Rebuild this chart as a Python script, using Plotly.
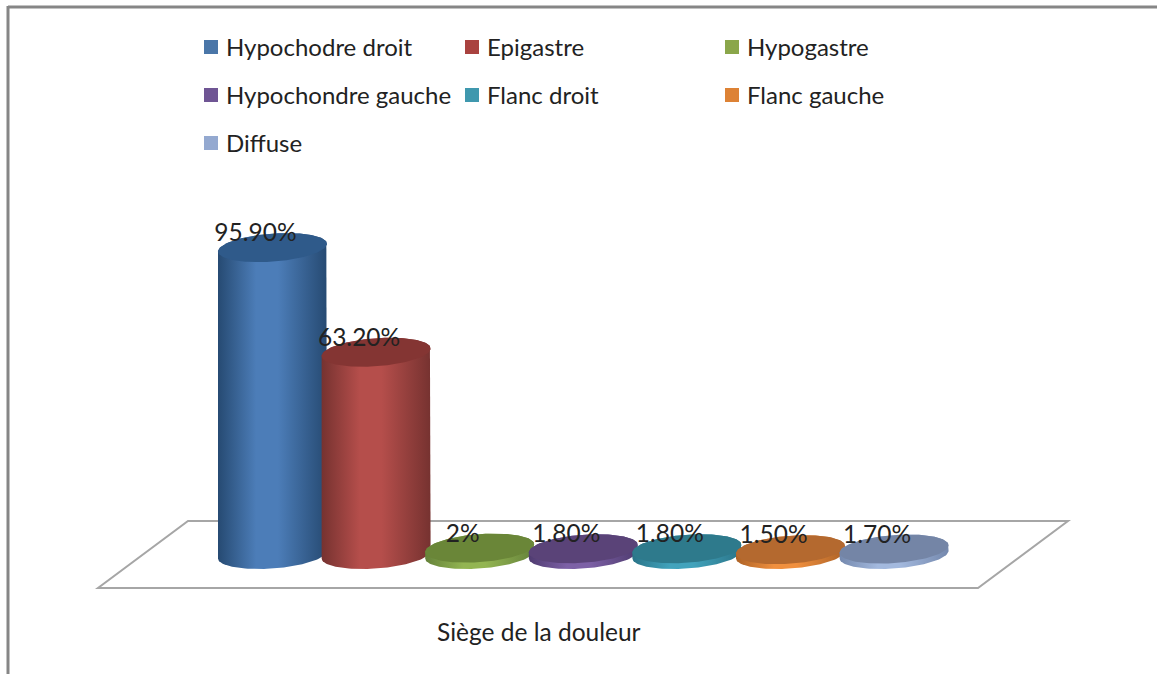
import numpy as np
import plotly.graph_objects as go

categories = ["Hypochodre droit", "Epigastre", "Hypogastre", "Hypochondre gauche",
              "Flanc droit", "Flanc gauche", "Diffuse"]
values = [95.9, 63.2, 2.0, 1.8, 1.8, 1.5, 1.7]
labels = ["95.90%", "63.20%", "2%", "1.80%", "1.80%", "1.50%", "1.70%"]
legend_colors = ["#4a76a8", "#a9423f", "#8aa64a", "#6f5594", "#3f98ae", "#dd8235", "#94a9d0"]
side_edge = ["#264a72", "#763230", "#65823a", "#4f3b70", "#2a7488", "#ad6226", "#7488ad"]
side_mid = ["#4c7db8", "#b54e4b", "#93b552", "#7d61a6", "#42a3bc", "#f0903f", "#a3b9de"]
top_colors = ["#2f5a8a", "#843533", "#6a8638", "#5a4378", "#2e7a8c", "#b4692f", "#7485a6"]

W, H = 1157, 674
PX_PER_UNIT = 3.2          # vertical scale of the value axis
ZERO_PX = 554.5            # pixel row of value 0
A, B, SHEAR = 54.5, 14, 0.07   # ellipse half axes and perspective tilt
FONT = "Lato"
INK = "#222222"

centers = [272.5 + 103.6 * i for i in range(len(values))]
t = np.linspace(0, 2 * np.pi, 121)
fig = go.Figure()


def ring(cx, base, theta):
    xs = cx + A * np.cos(theta)
    ys = base + (SHEAR * A * np.cos(theta) + B * np.sin(theta)) / PX_PER_UNIT
    return xs, ys


for i, v in enumerate(values):
    cx = centers[i]
    low = np.linspace(np.pi, 2 * np.pi, 61)
    upp = np.linspace(0, np.pi, 61)
    xb, yb = ring(cx, 0, low)
    xt, yt = ring(cx, v, upp)
    fig.add_trace(go.Scatter(
        x=np.r_[xb, xt], y=np.r_[yb, yt], mode="lines", line=dict(width=0),
        fill="toself", hoverinfo="skip", showlegend=False,
        fillgradient=dict(type="horizontal", colorscale=[
            [0, side_edge[i]], [0.35, side_mid[i]],
            [0.55, side_mid[i]], [1, side_edge[i]]]),
    ))
    xe, ye = ring(cx, v, t)
    fig.add_trace(go.Scatter(
        x=xe, y=ye, mode="lines", line=dict(width=0), fill="toself",
        fillcolor=top_colors[i], hoverinfo="skip", showlegend=False,
    ))

fig.add_trace(go.Scatter(
    x=[c - 17 for c in centers],
    y=[v + 12.5 / PX_PER_UNIT for v in values],
    mode="text", text=labels, textposition="middle center",
    textfont=dict(family=FONT, size=24.5, color=INK),
    hoverinfo="skip", showlegend=False,
))


def px(x):
    return x / W


def py(y):
    return 1 - y / H


shapes = [
    dict(type="path", xref="paper", yref="paper", layer="below",
         path=f"M {px(98)} {py(588)} L {px(978)} {py(588)} L {px(1068)} {py(521)} L {px(188)} {py(521)} Z",
         line=dict(color="#a6a6a6", width=2), fillcolor="#ffffff"),
    dict(type="line", xref="paper", yref="paper", x0=px(8), x1=1, y0=py(7), y1=py(7),
         line=dict(color="#868686", width=3)),
    dict(type="line", xref="paper", yref="paper", x0=px(8), x1=px(8), y0=py(6), y1=0,
         line=dict(color="#868686", width=3)),
]
annotations = []
legend_x = [204, 465, 725]
legend_y = [47, 95, 143]
for i, name in enumerate(categories):
    lx, ly = legend_x[i % 3], legend_y[i // 3]
    shapes.append(dict(type="rect", xref="paper", yref="paper",
                       x0=px(lx), x1=px(lx + 14), y0=py(ly + 7), y1=py(ly - 7),
                       line=dict(width=0), fillcolor=legend_colors[i]))
    annotations.append(dict(xref="paper", yref="paper", x=px(lx + 20), y=py(ly - 1),
                            text=name, showarrow=False, xanchor="left", yanchor="middle",
                            font=dict(family=FONT, size=24, color=INK)))
annotations.append(dict(xref="paper", yref="paper", x=px(539), y=py(631),
                        text="Siège de la douleur", showarrow=False,
                        xanchor="center", yanchor="middle",
                        font=dict(family=FONT, size=24.5, color=INK)))

fig.update_layout(
    width=W, height=H, margin=dict(l=0, r=0, t=0, b=0),
    paper_bgcolor="white", plot_bgcolor="rgba(0,0,0,0)",
    xaxis=dict(range=[0, W], visible=False, fixedrange=True),
    yaxis=dict(range=[-(H - ZERO_PX) / PX_PER_UNIT, ZERO_PX / PX_PER_UNIT],
               visible=False, fixedrange=True),
    shapes=shapes, annotations=annotations, showlegend=False,
)
fig.write_html("out.html", config={"displayModeBar": False},
               post_script="document.body.style.margin='0';document.documentElement.style.overflow='hidden';")
